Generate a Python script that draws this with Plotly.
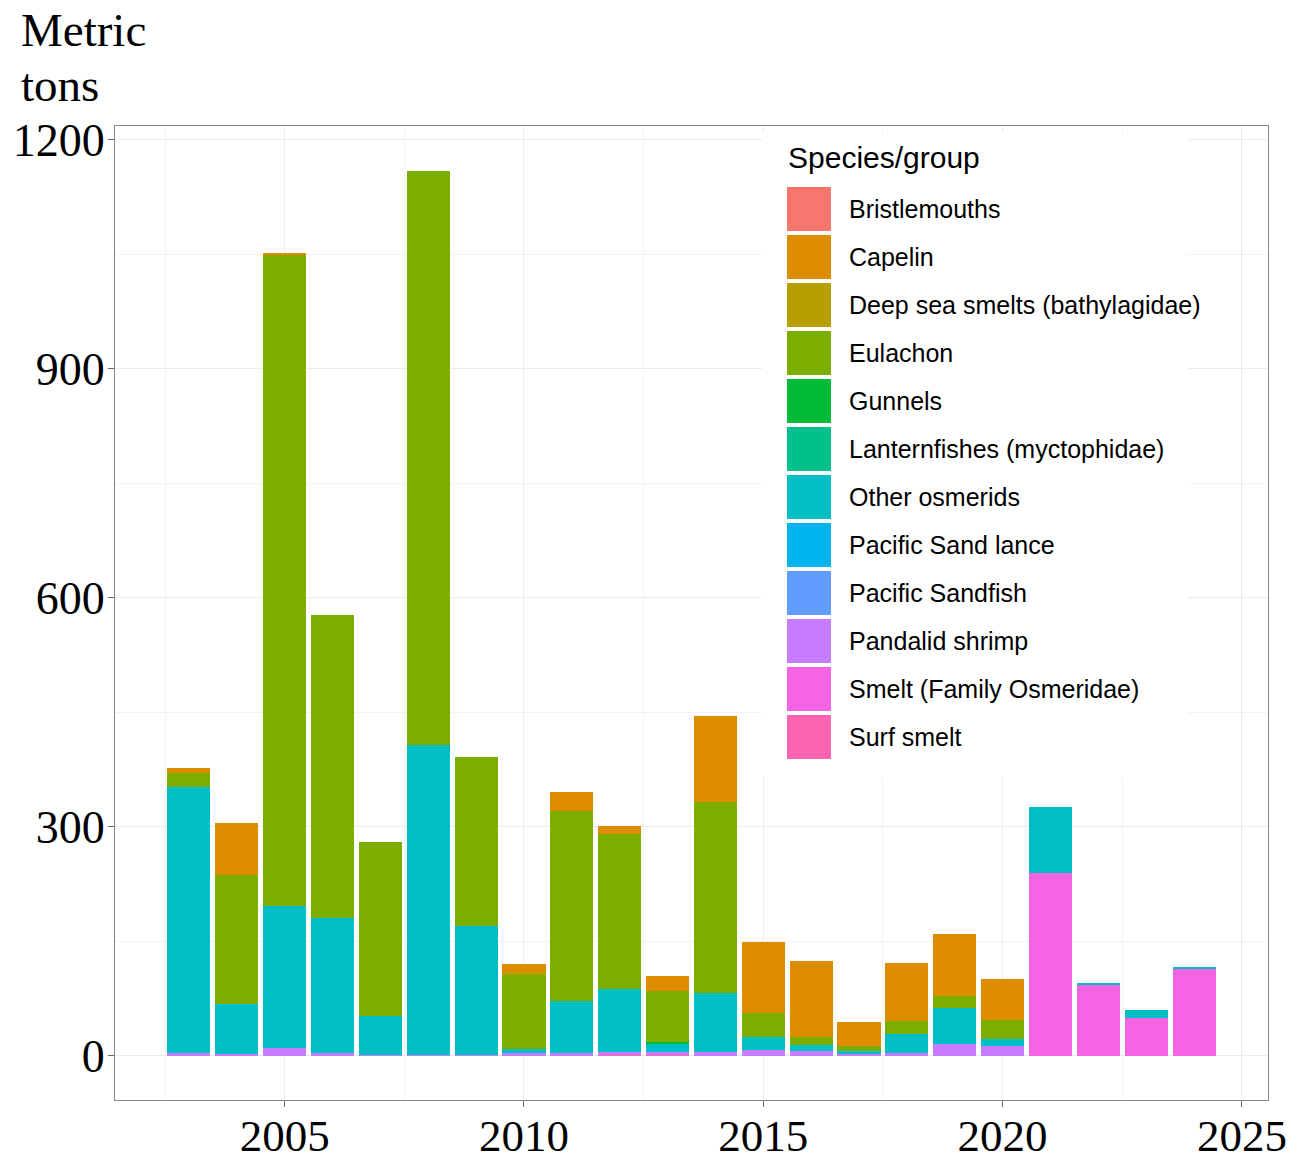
import plotly.graph_objects as go

years = list(range(2003, 2025))

species = [
    "Bristlemouths", "Capelin", "Deep sea smelts (bathylagidae)", "Eulachon",
    "Gunnels", "Lanternfishes (myctophidae)", "Other osmerids",
    "Pacific Sand lance", "Pacific Sandfish", "Pandalid shrimp",
    "Smelt (Family Osmeridae)", "Surf smelt",
]
colors = ["#F8766D", "#DE8C00", "#B79F00", "#7CAE00", "#00BA38", "#00C08B",
          "#00BFC4", "#00B4F0", "#619CFF", "#C77CFF", "#F564E3", "#FF64B0"]

# metric tons by year (2003..2024)
bristlemouths = [0] * 22
capelin = [7, 68, 2.5, 0, 0, 0, 0, 10.4, 24, 11.5, 20, 112, 93, 99.6, 32.6, 76, 80.8, 53.7, 0, 0, 0, 0]
deep_sea_smelts = [0, 0, 0, 0, 0, 0, 0, 3.6, 0, 0, 0, 0, 0, 0, 0, 0, 0, 0, 0, 0, 0, 0]
eulachon = [18, 169, 853, 397, 228, 752, 221, 97.3, 249, 203, 67, 251, 30.5, 11, 6.6, 16.6, 16.6, 24.9, 0, 0, 0, 0]
gunnels = [0, 0, 0, 0, 0, 0, 0, 0, 0, 0, 2, 0, 0, 0, 0, 0, 0, 0, 0, 0, 0, 0]
lanternfishes = [0] * 22
other_osmerids = [348, 66, 186, 177, 51, 407, 170, 5.7, 68, 81.5, 11, 77, 17, 8.3, 3, 25, 46.7, 8.7, 86, 1.7, 9.6, 1.3]
pacific_sand_lance = [0] * 22
pacific_sandfish = [0] * 22
pandalid_shrimp = [4, 2, 10, 3, 1, 0.5, 0.5, 3, 4, 4, 3, 5, 8, 5.7, 1.8, 4, 15.3, 12.7, 0, 0, 0, 0]
smelt_family = [0, 0, 0, 0, 0, 0, 0, 0, 0, 0, 0, 0, 0, 0, 0, 0, 0, 0, 240, 93.5, 50, 114]
surf_smelt = [0, 0, 0, 0, 0, 0, 0, 0, 0, 1.5, 1.5, 0, 0, 0, 0.8, 0, 0, 0, 0, 0, 0, 0]

values = [bristlemouths, capelin, deep_sea_smelts, eulachon, gunnels, lanternfishes,
          other_osmerids, pacific_sand_lance, pacific_sandfish, pandalid_shrimp,
          smelt_family, surf_smelt]

y_ticks = [0, 300, 600, 900, 1200]
x_ticks = [2005, 2010, 2015, 2020, 2025]

fig = go.Figure()
# ggplot stacks first factor level on top -> add in reverse
for name, col, vals in reversed(list(zip(species, colors, values))):
    fig.add_trace(go.Bar(x=years, y=vals, name=name, marker_color=col,
                         marker_line_width=0, width=0.9, showlegend=False))

# page body has an 8px default margin: figure is drawn offset by 8px
OFF = 8
W, H = 1296 - OFF, 1158 - OFF
L, R, T, B = 115, 1268, 126, 1100  # plot panel in screenshot pixels


def px(xp):
    return (xp - L) / (R - L)


def py(yp):
    return (B - yp) / (B - T)


serif = "Liberation Serif"
sans = "Liberation Sans"

shapes = []
annotations = []
# legend background
shapes.append(dict(type="rect", xref="paper", yref="paper", x0=px(762), x1=px(1188),
                   y0=py(777), y1=py(133), fillcolor="white", line_width=0, layer="above"))
annotations.append(dict(xref="paper", yref="paper", x=px(786), y=py(157), text="Species/group",
                        showarrow=False, xanchor="left", yanchor="middle",
                        font=dict(family=sans, size=30, color="black")))
for i, (name, col) in enumerate(zip(species, colors)):
    top = 187 + 48 * i
    shapes.append(dict(type="rect", xref="paper", yref="paper", x0=px(787), x1=px(831),
                       y0=py(top + 44), y1=py(top), fillcolor=col, line_width=0, layer="above"))
    annotations.append(dict(xref="paper", yref="paper", x=px(847), y=py(top + 22), text=name,
                            showarrow=False, xanchor="left", yanchor="middle",
                            font=dict(family=sans, size=25, color="black")))

for txt, yc in (("Metric", 30), ("tons", 85)):
    annotations.append(dict(xref="paper", yref="paper", x=px(19), y=py(yc), text=txt,
                            showarrow=False, xanchor="left", yanchor="middle",
                            font=dict(family=serif, size=47, color="black")))

fig.update_layout(
    width=W, height=H,
    margin=dict(l=L - OFF, r=W - (R - OFF), t=T - OFF, b=H - (B - OFF), autoexpand=False),
    barmode="stack", bargap=0,
    paper_bgcolor="white", plot_bgcolor="white",
    shapes=shapes, annotations=annotations,
    showlegend=False,
)
fig.update_xaxes(range=[2001.455, 2025.545], tickvals=x_ticks, ticktext=[str(v) for v in x_ticks],
                 automargin=False, ticklabelstandoff=-10,
                 showgrid=True, gridcolor="#EBEBEB", gridwidth=1,
                 minor=dict(dtick=2.5, tick0=2002.5, showgrid=True, gridcolor="#F3F3F3"),
                 ticks="outside", ticklen=6, tickcolor="#666",
                 showline=True, mirror=True, linecolor="#888", linewidth=1,
                 zeroline=False,
                 tickfont=dict(family=serif, size=45, color="black"))
fig.update_yaxes(range=[-58, 1218], tickvals=y_ticks, ticktext=[str(v) for v in y_ticks],
                 automargin=False, ticklabelstandoff=-6,
                 showgrid=True, gridcolor="#EBEBEB", gridwidth=1,
                 minor=dict(dtick=150, tick0=150, showgrid=True, gridcolor="#F3F3F3"),
                 ticks="outside", ticklen=6, tickcolor="#666",
                 showline=True, mirror=True, linecolor="#888", linewidth=1,
                 zeroline=False,
                 tickfont=dict(family=serif, size=46, color="black"))

fig.write_html("out.html")
